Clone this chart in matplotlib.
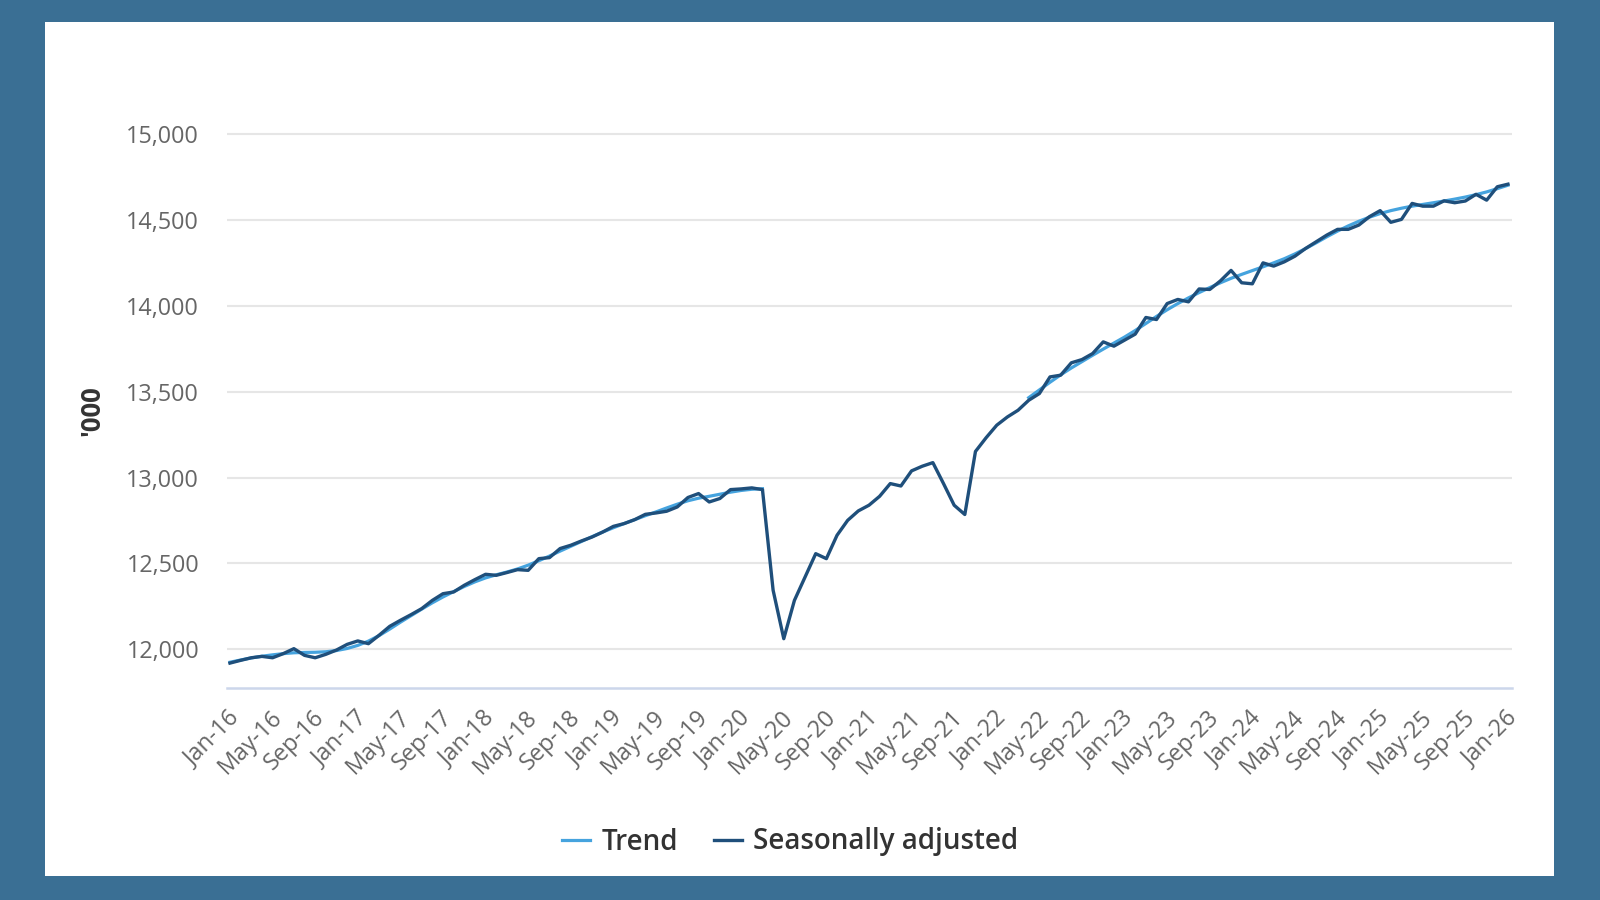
import numpy as np
import matplotlib
matplotlib.use("Agg")
import matplotlib.pyplot as plt
from matplotlib.patches import Rectangle
from matplotlib.ticker import FuncFormatter
from matplotlib.transforms import ScaledTranslation

plt.rcParams['font.family'] = ['Open Sans', 'DejaVu Sans']

# monthly categories Jan-16 .. Jan-26
month_names = ['Jan', 'Feb', 'Mar', 'Apr', 'May', 'Jun',
               'Jul', 'Aug', 'Sep', 'Oct', 'Nov', 'Dec']
years = list(range(16, 26))
months = [f'{m}-{y}' for y in years for m in month_names] + ['Jan-26']

# seasonally adjusted, '000
seasonally_adjusted = [
    11920, 11936, 11951, 11959, 11951, 11975, 12004, 11965, 11951, 11971, 11996, 12029,
    12049, 12033, 12082, 12134, 12169, 12202, 12237, 12285, 12324, 12334, 12373, 12406,
    12437, 12431, 12447, 12464, 12460, 12528, 12534, 12587, 12606, 12631, 12654, 12683,
    12716, 12732, 12755, 12786, 12794, 12804, 12829, 12884, 12907, 12858, 12878, 12930,
    12934, 12940, 12930, 12344, 12062, 12285, 12421, 12557, 12528, 12664, 12751, 12806,
    12839, 12891, 12965, 12951, 13039, 13066, 13087, 12965, 12839, 12785, 13152, 13232,
    13305, 13353, 13392, 13450, 13489, 13586, 13596, 13668, 13687, 13722, 13790, 13765,
    13800, 13835, 13932, 13920, 14013, 14037, 14023, 14098, 14095, 14145, 14206, 14134,
    14128, 14250, 14231, 14256, 14289, 14334, 14373, 14412, 14445, 14445, 14470, 14519,
    14554, 14486, 14503, 14596, 14580, 14580, 14611, 14600, 14610, 14649, 14615, 14693,
    14708,
]

# trend, '000 (suspended Apr-20 to Mar-22)
nan = np.nan
trend = [
    11925, 11938, 11950, 11960, 11968, 11975, 11980, 11982, 11983, 11986, 11993, 12005,
    12023, 12048, 12080, 12118, 12158, 12196, 12234, 12271, 12305, 12336, 12366, 12393,
    12416, 12434, 12450, 12468, 12490, 12516, 12543, 12572, 12600, 12628, 12656, 12683,
    12708, 12732, 12755, 12778, 12800, 12823, 12845, 12865, 12880, 12891, 12903, 12915,
    12925, 12932, 12935, nan, nan, nan, nan, nan, nan, nan, nan, nan,
    nan, nan, nan, nan, nan, nan, nan, nan, nan, nan, nan, nan,
    nan, nan, nan, 13465, 13510, 13555, 13598, 13638, 13675, 13712, 13748, 13783,
    13818, 13856, 13897, 13938, 13977, 14013, 14046, 14077, 14106, 14134, 14160, 14183,
    14205, 14227, 14250, 14274, 14302, 14333, 14367, 14402, 14435, 14465, 14492, 14516,
    14537, 14554, 14568, 14580, 14590, 14600, 14610, 14621, 14633, 14647, 14663, 14682,
    14702,
]

frame_color = '#3a6f94'
trend_color = '#45a3de'
sa_color = '#1f4f7b'

fig = plt.figure(figsize=(16, 9), dpi=100)
fig.patch.set_facecolor(frame_color)
fig.patches.append(Rectangle((45 / 1600, 24 / 900), 1509 / 1600, 854 / 900,
                             transform=fig.transFigure, facecolor='white',
                             edgecolor='none', zorder=-5))

ax = fig.add_axes([227 / 1600, (900 - 688) / 900, 1285 / 1600, 555.7 / 900])
ax.set_facecolor('white')
ax.set_zorder(2)

x = np.arange(len(months))
ax.plot(x, trend, color=trend_color, lw=2.3, label='Trend', zorder=3)
ax.plot(x, seasonally_adjusted, color=sa_color, lw=2.4,
        label='Seasonally adjusted', zorder=4)

ax.set_xlim(-0.28, 120.38)
ax.set_ylim(11775, 15010)

ax.set_yticks(np.arange(12000, 15001, 500))
ax.yaxis.set_major_formatter(FuncFormatter(lambda v, p: f'{int(v):,}'))
ax.grid(axis='y', color='#e6e6e6', lw=1.5)
ax.set_axisbelow(True)

ax.set_xticks(x[::4])
ax.set_xticklabels(months[::4], rotation=45, ha='right', va='center',
                   rotation_mode='anchor')

ax.tick_params(axis='y', length=0, pad=20, labelsize=16.8, labelcolor='#666666')
ax.tick_params(axis='x', length=0, pad=19, labelsize=16.8, labelcolor='#666666')

# nudge the rotated date labels to the right, as in the original
shift = ScaledTranslation(6 / 100, 0, fig.dpi_scale_trans)
for lbl in ax.get_xticklabels():
    lbl.set_transform(lbl.get_transform() + shift)

for side in ['top', 'right', 'left']:
    ax.spines[side].set_visible(False)
ax.spines['bottom'].set_color('#ccd6eb')
ax.spines['bottom'].set_linewidth(1.8)

fig.text(92 / 1600, 1 - 411 / 900, "'000", rotation=90, ha='center', va='center',
         fontsize=18.5, fontweight='bold', color='#333333')

fig.legend(loc='center', bbox_to_anchor=(790 / 1600, 1 - 842 / 900), ncol=2,
           frameon=False, prop={'size': 20, 'weight': 'semibold'},
           handlelength=1.0, handletextpad=0.4, columnspacing=1.3,
           labelcolor='#333333')

fig.savefig('out.png', dpi=100, facecolor=fig.get_facecolor())
